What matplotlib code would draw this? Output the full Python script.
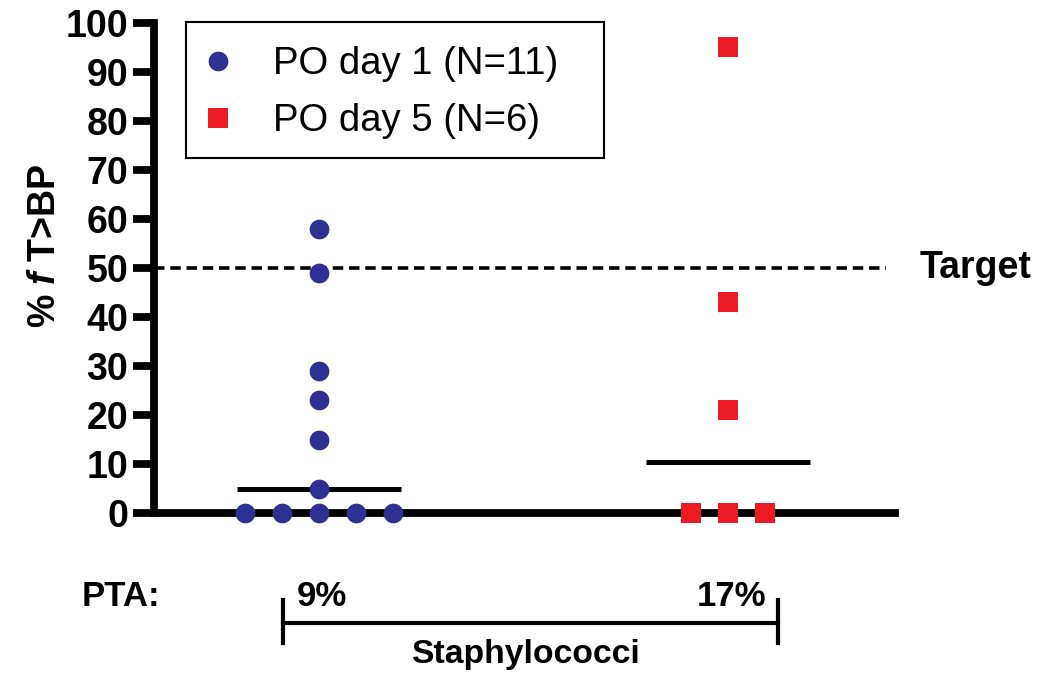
import numpy as np
import matplotlib
matplotlib.use("Agg")
import matplotlib.pyplot as plt
from matplotlib.lines import Line2D
from matplotlib.patches import Rectangle

plt.rcParams['font.family'] = ['Liberation Sans', 'DejaVu Sans']
plt.rcParams['mathtext.fontset'] = 'custom'
plt.rcParams['mathtext.it'] = 'Liberation Sans:italic:bold'
plt.rcParams['mathtext.rm'] = 'Liberation Sans:bold'

# ---- data ----
groups = ["PO day 1 (N=11)", "PO day 5 (N=6)"]
day1_values = [58, 49, 29, 23, 15, 5, 0, 0, 0, 0, 0]
day5_values = [95, 43, 21, 0, 0, 0]
target = 50
pathogen = "Staphylococci"
yticks = [0, 10, 20, 30, 40, 50, 60, 70, 80, 90, 100]

colors = ["#2E3192", "#ED1C24"]
markers = ["o", "s"]
msizes = [14.2, 14.4]

W, H = 1064, 673
fig = plt.figure(figsize=(W/100, H/100), dpi=100)
ax_l, ax_r, ax_b, ax_t = 154, 895, 513, 23
ax = fig.add_axes([ax_l/W, 1-ax_b/H, (ax_r-ax_l)/W, (ax_b-ax_t)/H])

def spread(vals, center, spacing=0.09):
    vals = np.asarray(vals, dtype=float)
    xs = np.full(len(vals), float(center))
    for u in np.unique(vals):
        idx = np.where(vals == u)[0]
        n = len(idx)
        xs[idx] = center + (np.arange(n) - (n - 1) / 2) * spacing
    return xs

all_vals = [day1_values, day5_values]
handles = []
for i, vals in enumerate(all_vals):
    c = i + 1
    xs = spread(vals, c)
    h, = ax.plot(xs, vals, linestyle='none', marker=markers[i], color=colors[i],
                 markersize=msizes[i], markeredgewidth=0, clip_on=False, zorder=5,
                 label=groups[i])
    handles.append(h)
    med = np.median(vals)
    ax.plot([c - 0.2, c + 0.2], [med, med], color='black', lw=3.6,
            solid_capstyle='butt', zorder=4)

ax.set_xlim(0.5966, 2.408)
ax.set_ylim(0, 100)
ax.axhline(target, xmin=0, xmax=(886-ax_l)/(ax_r-ax_l), color='black', lw=2.6,
           linestyle=(0, (2.9, 1.6)), zorder=3)
fig.text(920/W, 1-268/H, 'Target', ha='left', va='center', fontsize=27, fontweight='bold')

ax.set_yticks(yticks)
ax.set_yticklabels([str(t) for t in yticks], fontsize=27, fontweight='bold')
ax.set_xticks([])
for s in ['top', 'right']:
    ax.spines[s].set_visible(False)
for s in ['left', 'bottom']:
    ax.spines[s].set_linewidth(5.6)
    ax.spines[s].set_capstyle('projecting')
ax.tick_params(axis='y', length=15, width=5.6, pad=3.5)
ax.set_ylabel(r'% $\mathit{f}$ T>BP', fontsize=27, fontweight='bold')
ax.yaxis.set_label_coords((63-ax_l)/(ax_r-ax_l), (ax_b-246)/(ax_b-ax_t))

# legend (frame drawn separately)
leg_fs = 27.5
leg = fig.legend(handles=handles, loc='upper left', bbox_to_anchor=(186/W, 1-25/H),
                 frameon=False, fontsize=leg_fs, handletextpad=1.17,
                 handlelength=0.55, borderpad=0.56, labelspacing=0.54, borderaxespad=0)
fig.add_artist(Rectangle((186/W, 1-158/H), (604-186)/W, (158-22)/H,
                         transform=fig.transFigure, fill=False, edgecolor='black',
                         linewidth=1.5, zorder=6))

# PTA annotations (share of subjects reaching the target)
pta = [np.mean(np.asarray(v) >= target) * 100 for v in all_vals]
fig.text(82/W, 1-597/H, 'PTA:', ha='left', va='center', fontsize=25, fontweight='bold')
fig.text(297/W, 1-597/H, f'{pta[0]:.0f}%', ha='left', va='center', fontsize=25, fontweight='bold')
fig.text(766/W, 1-597/H, f'{pta[1]:.0f}%', ha='right', va='center', fontsize=25, fontweight='bold')

yb = 1-623/H
x0, x1 = 283/W, 778/W
fig.add_artist(Line2D([x0, x1], [yb, yb], color='black', lw=3, transform=fig.transFigure))
for xx in (x0, x1):
    fig.add_artist(Line2D([xx, xx], [1-600/H, 1-643/H], color='black', lw=3,
                          transform=fig.transFigure))
fig.text(525/W, 1-655/H, pathogen, ha='center', va='center', fontsize=24.3, fontweight='bold')

fig.savefig('out.png', dpi=100)
